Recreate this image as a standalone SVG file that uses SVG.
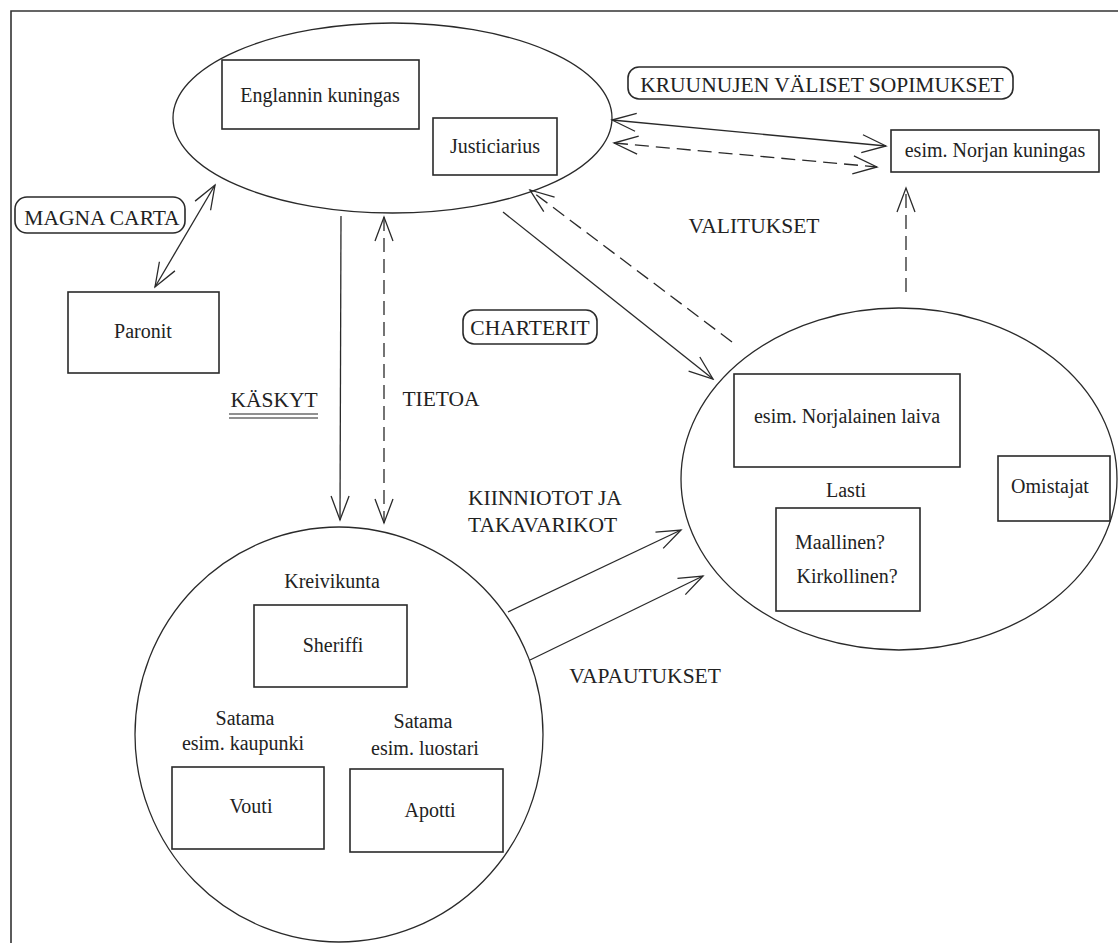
<svg xmlns="http://www.w3.org/2000/svg" width="1118" height="943" viewBox="0 0 1118 943">
<defs>
<style>
.ln{fill:none;stroke:#2a2a2a;stroke-width:1.3}
.dash{stroke-dasharray:14 7}
.box{fill:#fff;stroke:#2a2a2a;stroke-width:1.6}
.ell{fill:#fff;stroke:#2a2a2a;stroke-width:1.3}
text{font-family:"Liberation Serif","Times New Roman",serif;fill:#222;text-anchor:middle}
.t{font-size:20px}
.c{font-size:21.5px}
</style>
<marker id="a" viewBox="-26 -11 28 22" markerWidth="28" markerHeight="22" refX="0" refY="0" markerUnits="userSpaceOnUse" orient="auto-start-reverse">
<path d="M-24,-9 L0,0 L-24,9" fill="none" stroke="#2a2a2a" stroke-width="1.3"/>
</marker>
</defs>
<rect width="1118" height="943" fill="#fff"/>
<path d="M11,943 V11 H1118" fill="none" stroke="#333" stroke-width="1.6"/>

<g id="kuningas-ellipse">
<ellipse class="ell" cx="392.5" cy="118" rx="219.5" ry="95"/>
<g id="englannin-kuningas"><rect class="box" x="222" y="60" width="197" height="69"/><text class="t" x="320" y="102">Englannin kuningas</text></g>
<g id="justiciarius"><rect class="box" x="433" y="118" width="124" height="57"/><text class="t" x="495" y="153">Justiciarius</text></g>
</g>

<g id="kreivikunta-ellipse">
<ellipse class="ell" cx="339" cy="734.5" rx="204" ry="207.5"/>
<text class="t" x="332" y="588">Kreivikunta</text>
<g id="sheriffi"><rect class="box" x="254" y="605" width="153" height="82"/><text class="t" x="333" y="652">Sheriffi</text></g>
<text class="t" x="245" y="725">Satama</text>
<text class="t" x="243" y="750">esim. kaupunki</text>
<g id="vouti"><rect class="box" x="172" y="767" width="152" height="82"/><text class="t" x="251" y="813">Vouti</text></g>
<text class="t" x="423" y="728">Satama</text>
<text class="t" x="425" y="755">esim. luostari</text>
<g id="apotti"><rect class="box" x="350" y="769" width="153" height="83"/><text class="t" x="430" y="817">Apotti</text></g>
</g>

<g id="laiva-ellipse">
<ellipse class="ell" cx="899" cy="479" rx="218" ry="171"/>
<g id="norjalainen-laiva"><rect class="box" x="734" y="374" width="226" height="93"/><text class="t" x="847" y="423">esim. Norjalainen laiva</text></g>
<text class="t" x="846" y="497">Lasti</text>
<g id="lasti"><rect class="box" x="776" y="508" width="144" height="103"/><text class="t" x="840" y="549">Maallinen?</text><text class="t" x="847" y="583">Kirkollinen?</text></g>
<g id="omistajat"><rect class="box" x="998" y="456" width="112" height="65"/><text class="t" x="1050" y="493">Omistajat</text></g>
</g>

<g id="paronit"><rect class="box" x="68" y="292" width="151" height="81"/><text class="t" x="143" y="338">Paronit</text></g>
<g id="norjan-kuningas"><rect class="box" x="891" y="130" width="208" height="42"/><text class="t" x="995" y="157">esim. Norjan kuningas</text></g>

<g id="connectors">
<line class="ln" x1="215" y1="185" x2="155" y2="287" marker-start="url(#a)" marker-end="url(#a)"/>
<line class="ln" x1="341" y1="216" x2="340" y2="520" marker-end="url(#a)"/>
<line class="ln dash" x1="384" y1="217" x2="384" y2="523" marker-start="url(#a)" marker-end="url(#a)"/>
<line class="ln" x1="503" y1="212" x2="713" y2="379" marker-end="url(#a)"/>
<line class="ln dash" x1="732" y1="342" x2="530" y2="190" marker-end="url(#a)"/>
<line class="ln" x1="612" y1="120" x2="886" y2="146" marker-start="url(#a)" marker-end="url(#a)"/>
<line class="ln dash" x1="614" y1="143" x2="877" y2="167" marker-start="url(#a)" marker-end="url(#a)"/>
<line class="ln dash" x1="906" y1="292" x2="906" y2="188" marker-end="url(#a)"/>
<line class="ln" x1="508" y1="612" x2="681" y2="530" marker-end="url(#a)"/>
<line class="ln" x1="530" y1="660" x2="703" y2="576" marker-end="url(#a)"/>
</g>

<g id="labels">
<g id="magna-carta"><rect class="box" x="15" y="197" width="170" height="36" rx="12"/><text class="c" x="102" y="225">MAGNA CARTA</text></g>
<g id="kaskyt"><text class="c" x="274" y="407">KÄSKYT</text><path d="M229,414 H318 M229,418 H318" stroke="#222" stroke-width="1.2"/></g>
<text class="c" x="441" y="406">TIETOA</text>
<g id="charterit"><rect class="box" x="463" y="310" width="134" height="34" rx="11"/><text class="c" x="530" y="335">CHARTERIT</text></g>
<g id="kruunujen"><rect class="box" x="628" y="67" width="385" height="32" rx="11"/><text class="c" x="822" y="92">KRUUNUJEN VÄLISET SOPIMUKSET</text></g>
<text class="c" x="754" y="233">VALITUKSET</text>
<text class="c" x="468" y="505" style="text-anchor:start">KIINNIOTOT JA</text>
<text class="c" x="468" y="532" style="text-anchor:start">TAKAVARIKOT</text>
<text class="c" x="645" y="683">VAPAUTUKSET</text>
</g>
</svg>
